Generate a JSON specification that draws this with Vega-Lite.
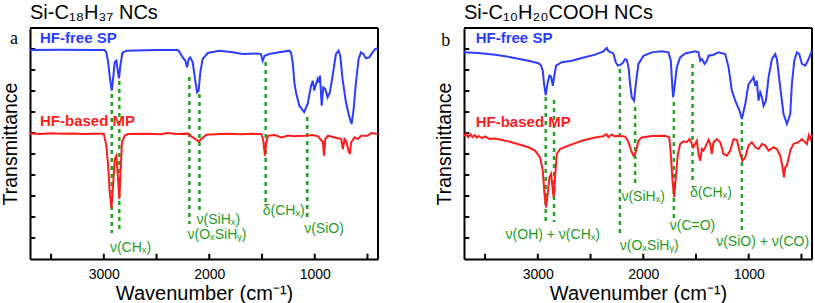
{
  "$schema": "https://vega.github.io/schema/vega-lite/v6.json",
  "background": "white",
  "padding": {"left": 0, "top": 3, "right": 0, "bottom": 0},
  "spacing": 86,
  "bounds": "flush",
  "config": {
    "font": "Liberation Sans",
    "view": {"stroke": null},
    "axis": {"grid": false, "domainColor": "black", "domainWidth": 2, "labelColor": "black", "titleColor": "black", "titleFontWeight": "normal", "labelFont": "Liberation Sans", "titleFont": "Liberation Sans"},
    "title": {"anchor": "start", "frame": "group", "fontSize": 20, "fontWeight": "normal", "color": "black", "offset": 4, "font": "Liberation Sans"}
  },
  "datasets": {
    "spectra": [
      {"p":"a","s":"SP","wn":3700,"t":9.95},{"p":"a","s":"SP","wn":3400,"t":9.96},{"p":"a","s":"SP","wn":3100,"t":9.95},{"p":"a","s":"SP","wn":2992,"t":9.95},{"p":"a","s":"SP","wn":2976,"t":9.84},{"p":"a","s":"SP","wn":2959,"t":9.37},{"p":"a","s":"SP","wn":2941,"t":8.57},{"p":"a","s":"SP","wn":2925,"t":8.02},{"p":"a","s":"SP","wn":2909,"t":8.73},{"p":"a","s":"SP","wn":2897,"t":9.37},{"p":"a","s":"SP","wn":2881,"t":9.44},{"p":"a","s":"SP","wn":2865,"t":8.89},{"p":"a","s":"SP","wn":2856,"t":8.6},{"p":"a","s":"SP","wn":2843,"t":9.21},{"p":"a","s":"SP","wn":2824,"t":9.81},{"p":"a","s":"SP","wn":2786,"t":9.92},{"p":"a","s":"SP","wn":2500,"t":9.95},{"p":"a","s":"SP","wn":2300,"t":9.95},{"p":"a","s":"SP","wn":2284,"t":9.87},{"p":"a","s":"SP","wn":2252,"t":9.6},{"p":"a","s":"SP","wn":2227,"t":9.44},{"p":"a","s":"SP","wn":2211,"t":9.13},{"p":"a","s":"SP","wn":2195,"t":9.52},{"p":"a","s":"SP","wn":2180,"t":9.6},{"p":"a","s":"SP","wn":2157,"t":9.37},{"p":"a","s":"SP","wn":2135,"t":8.57},{"p":"a","s":"SP","wn":2116,"t":7.94},{"p":"a","s":"SP","wn":2101,"t":8.02},{"p":"a","s":"SP","wn":2085,"t":8.89},{"p":"a","s":"SP","wn":2063,"t":9.52},{"p":"a","s":"SP","wn":2015,"t":9.81},{"p":"a","s":"SP","wn":1905,"t":9.92},{"p":"a","s":"SP","wn":1778,"t":9.84},{"p":"a","s":"SP","wn":1683,"t":9.76},{"p":"a","s":"SP","wn":1557,"t":9.79},{"p":"a","s":"SP","wn":1510,"t":9.76},{"p":"a","s":"SP","wn":1494,"t":9.44},{"p":"a","s":"SP","wn":1475,"t":9.68},{"p":"a","s":"SP","wn":1431,"t":9.76},{"p":"a","s":"SP","wn":1336,"t":9.84},{"p":"a","s":"SP","wn":1241,"t":9.92},{"p":"a","s":"SP","wn":1225,"t":9.84},{"p":"a","s":"SP","wn":1209,"t":9.37},{"p":"a","s":"SP","wn":1193,"t":8.41},{"p":"a","s":"SP","wn":1178,"t":7.94},{"p":"a","s":"SP","wn":1146,"t":7.3},{"p":"a","s":"SP","wn":1100,"t":7.0},{"p":"a","s":"SP","wn":1067,"t":7.38},{"p":"a","s":"SP","wn":1035,"t":8.25},{"p":"a","s":"SP","wn":1019,"t":8.49},{"p":"a","s":"SP","wn":1004,"t":8.02},{"p":"a","s":"SP","wn":988,"t":8.33},{"p":"a","s":"SP","wn":972,"t":8.57},{"p":"a","s":"SP","wn":963,"t":8.41},{"p":"a","s":"SP","wn":950,"t":8.73},{"p":"a","s":"SP","wn":934,"t":7.3},{"p":"a","s":"SP","wn":919,"t":8.17},{"p":"a","s":"SP","wn":900,"t":8.1},{"p":"a","s":"SP","wn":878,"t":7.7},{"p":"a","s":"SP","wn":856,"t":7.94},{"p":"a","s":"SP","wn":830,"t":8.73},{"p":"a","s":"SP","wn":799,"t":9.76},{"p":"a","s":"SP","wn":774,"t":9.92},{"p":"a","s":"SP","wn":758,"t":9.68},{"p":"a","s":"SP","wn":736,"t":8.57},{"p":"a","s":"SP","wn":704,"t":7.46},{"p":"a","s":"SP","wn":673,"t":6.79},{"p":"a","s":"SP","wn":650,"t":6.43},{"p":"a","s":"SP","wn":631,"t":7.14},{"p":"a","s":"SP","wn":609,"t":8.41},{"p":"a","s":"SP","wn":584,"t":9.52},{"p":"a","s":"SP","wn":562,"t":9.84},{"p":"a","s":"SP","wn":540,"t":9.76},{"p":"a","s":"SP","wn":514,"t":9.56},{"p":"a","s":"SP","wn":483,"t":9.6},{"p":"a","s":"SP","wn":451,"t":9.84},{"p":"a","s":"SP","wn":426,"t":10.0},{"p":"a","s":"SP","wn":400,"t":10.05},

      {"p":"a","s":"MP","wn":3700,"t":5.98},{"p":"a","s":"MP","wn":3600,"t":5.95},{"p":"a","s":"MP","wn":3500,"t":5.99},{"p":"a","s":"MP","wn":3400,"t":5.96},{"p":"a","s":"MP","wn":3300,"t":5.98},{"p":"a","s":"MP","wn":3200,"t":5.95},{"p":"a","s":"MP","wn":3100,"t":5.97},{"p":"a","s":"MP","wn":3000,"t":5.97},{"p":"a","s":"MP","wn":2976,"t":5.4},{"p":"a","s":"MP","wn":2959,"t":4.44},{"p":"a","s":"MP","wn":2944,"t":3.17},{"p":"a","s":"MP","wn":2928,"t":2.41},{"p":"a","s":"MP","wn":2912,"t":3.49},{"p":"a","s":"MP","wn":2897,"t":4.76},{"p":"a","s":"MP","wn":2881,"t":4.92},{"p":"a","s":"MP","wn":2865,"t":3.81},{"p":"a","s":"MP","wn":2853,"t":2.86},{"p":"a","s":"MP","wn":2840,"t":4.29},{"p":"a","s":"MP","wn":2828,"t":5.56},{"p":"a","s":"MP","wn":2802,"t":5.87},{"p":"a","s":"MP","wn":2771,"t":5.95},{"p":"a","s":"MP","wn":2600,"t":5.97},{"p":"a","s":"MP","wn":2450,"t":5.94},{"p":"a","s":"MP","wn":2400,"t":6.0},{"p":"a","s":"MP","wn":2300,"t":5.95},{"p":"a","s":"MP","wn":2202,"t":5.97},{"p":"a","s":"MP","wn":2170,"t":5.84},{"p":"a","s":"MP","wn":2123,"t":5.68},{"p":"a","s":"MP","wn":2101,"t":5.59},{"p":"a","s":"MP","wn":2075,"t":5.71},{"p":"a","s":"MP","wn":2028,"t":5.92},{"p":"a","s":"MP","wn":1900,"t":5.95},{"p":"a","s":"MP","wn":1800,"t":5.97},{"p":"a","s":"MP","wn":1700,"t":5.94},{"p":"a","s":"MP","wn":1600,"t":5.96},{"p":"a","s":"MP","wn":1506,"t":5.95},{"p":"a","s":"MP","wn":1490,"t":5.71},{"p":"a","s":"MP","wn":1472,"t":4.92},{"p":"a","s":"MP","wn":1459,"t":5.56},{"p":"a","s":"MP","wn":1443,"t":5.87},{"p":"a","s":"MP","wn":1380,"t":5.9},{"p":"a","s":"MP","wn":1316,"t":5.79},{"p":"a","s":"MP","wn":1250,"t":5.88},{"p":"a","s":"MP","wn":1200,"t":5.85},{"p":"a","s":"MP","wn":1095,"t":5.87},{"p":"a","s":"MP","wn":1020,"t":5.9},{"p":"a","s":"MP","wn":969,"t":5.84},{"p":"a","s":"MP","wn":922,"t":5.56},{"p":"a","s":"MP","wn":912,"t":4.92},{"p":"a","s":"MP","wn":900,"t":5.71},{"p":"a","s":"MP","wn":874,"t":5.87},{"p":"a","s":"MP","wn":811,"t":5.79},{"p":"a","s":"MP","wn":749,"t":5.71},{"p":"a","s":"MP","wn":733,"t":5.24},{"p":"a","s":"MP","wn":717,"t":5.71},{"p":"a","s":"MP","wn":702,"t":5.62},{"p":"a","s":"MP","wn":680,"t":5.16},{"p":"a","s":"MP","wn":667,"t":5.0},{"p":"a","s":"MP","wn":654,"t":5.56},{"p":"a","s":"MP","wn":623,"t":5.79},{"p":"a","s":"MP","wn":592,"t":5.71},{"p":"a","s":"MP","wn":560,"t":5.87},{"p":"a","s":"MP","wn":497,"t":5.87},{"p":"a","s":"MP","wn":465,"t":6.0},{"p":"a","s":"MP","wn":400,"t":5.95},

      {"p":"b","s":"SP","wn":3700,"t":9.84},{"p":"b","s":"SP","wn":3564,"t":9.81},{"p":"b","s":"SP","wn":3405,"t":9.73},{"p":"b","s":"SP","wn":3247,"t":9.6},{"p":"b","s":"SP","wn":3089,"t":9.44},{"p":"b","s":"SP","wn":2994,"t":9.32},{"p":"b","s":"SP","wn":2969,"t":9.21},{"p":"b","s":"SP","wn":2953,"t":8.97},{"p":"b","s":"SP","wn":2941,"t":8.33},{"p":"b","s":"SP","wn":2925,"t":7.81},{"p":"b","s":"SP","wn":2906,"t":8.41},{"p":"b","s":"SP","wn":2890,"t":8.73},{"p":"b","s":"SP","wn":2874,"t":8.68},{"p":"b","s":"SP","wn":2858,"t":8.25},{"p":"b","s":"SP","wn":2846,"t":8.65},{"p":"b","s":"SP","wn":2827,"t":9.21},{"p":"b","s":"SP","wn":2773,"t":9.37},{"p":"b","s":"SP","wn":2678,"t":9.44},{"p":"b","s":"SP","wn":2583,"t":9.57},{"p":"b","s":"SP","wn":2457,"t":9.73},{"p":"b","s":"SP","wn":2378,"t":9.89},{"p":"b","s":"SP","wn":2346,"t":10.05},{"p":"b","s":"SP","wn":2330,"t":9.89},{"p":"b","s":"SP","wn":2283,"t":9.79},{"p":"b","s":"SP","wn":2261,"t":9.37},{"p":"b","s":"SP","wn":2242,"t":9.21},{"p":"b","s":"SP","wn":2219,"t":9.25},{"p":"b","s":"SP","wn":2197,"t":9.32},{"p":"b","s":"SP","wn":2172,"t":9.52},{"p":"b","s":"SP","wn":2156,"t":9.48},{"p":"b","s":"SP","wn":2140,"t":9.13},{"p":"b","s":"SP","wn":2125,"t":8.33},{"p":"b","s":"SP","wn":2109,"t":7.7},{"p":"b","s":"SP","wn":2087,"t":7.54},{"p":"b","s":"SP","wn":2071,"t":8.33},{"p":"b","s":"SP","wn":2046,"t":9.29},{"p":"b","s":"SP","wn":1998,"t":9.68},{"p":"b","s":"SP","wn":1919,"t":9.84},{"p":"b","s":"SP","wn":1824,"t":9.89},{"p":"b","s":"SP","wn":1761,"t":9.84},{"p":"b","s":"SP","wn":1739,"t":9.44},{"p":"b","s":"SP","wn":1726,"t":8.33},{"p":"b","s":"SP","wn":1717,"t":7.7},{"p":"b","s":"SP","wn":1704,"t":8.17},{"p":"b","s":"SP","wn":1682,"t":9.13},{"p":"b","s":"SP","wn":1650,"t":9.6},{"p":"b","s":"SP","wn":1603,"t":9.79},{"p":"b","s":"SP","wn":1508,"t":9.89},{"p":"b","s":"SP","wn":1476,"t":9.84},{"p":"b","s":"SP","wn":1460,"t":9.44},{"p":"b","s":"SP","wn":1444,"t":9.52},{"p":"b","s":"SP","wn":1419,"t":9.29},{"p":"b","s":"SP","wn":1397,"t":9.44},{"p":"b","s":"SP","wn":1381,"t":9.68},{"p":"b","s":"SP","wn":1334,"t":9.73},{"p":"b","s":"SP","wn":1286,"t":9.84},{"p":"b","s":"SP","wn":1223,"t":9.76},{"p":"b","s":"SP","wn":1191,"t":9.13},{"p":"b","s":"SP","wn":1160,"t":8.02},{"p":"b","s":"SP","wn":1128,"t":7.54},{"p":"b","s":"SP","wn":1087,"t":7.06},{"p":"b","s":"SP","wn":1065,"t":6.67},{"p":"b","s":"SP","wn":1033,"t":7.38},{"p":"b","s":"SP","wn":1002,"t":8.33},{"p":"b","s":"SP","wn":976,"t":8.49},{"p":"b","s":"SP","wn":954,"t":8.65},{"p":"b","s":"SP","wn":938,"t":8.25},{"p":"b","s":"SP","wn":923,"t":8.49},{"p":"b","s":"SP","wn":907,"t":7.54},{"p":"b","s":"SP","wn":891,"t":7.94},{"p":"b","s":"SP","wn":875,"t":7.7},{"p":"b","s":"SP","wn":859,"t":7.3},{"p":"b","s":"SP","wn":837,"t":7.54},{"p":"b","s":"SP","wn":812,"t":8.65},{"p":"b","s":"SP","wn":780,"t":9.52},{"p":"b","s":"SP","wn":749,"t":9.76},{"p":"b","s":"SP","wn":733,"t":9.52},{"p":"b","s":"SP","wn":701,"t":8.17},{"p":"b","s":"SP","wn":670,"t":6.9},{"p":"b","s":"SP","wn":638,"t":6.43},{"p":"b","s":"SP","wn":606,"t":6.9},{"p":"b","s":"SP","wn":591,"t":8.33},{"p":"b","s":"SP","wn":568,"t":9.44},{"p":"b","s":"SP","wn":543,"t":9.84},{"p":"b","s":"SP","wn":521,"t":9.76},{"p":"b","s":"SP","wn":496,"t":9.29},{"p":"b","s":"SP","wn":464,"t":9.21},{"p":"b","s":"SP","wn":432,"t":9.52},{"p":"b","s":"SP","wn":401,"t":9.92},

      {"p":"b","s":"MP","wn":3700,"t":5.87},{"p":"b","s":"MP","wn":3680,"t":5.97},{"p":"b","s":"MP","wn":3660,"t":5.8},{"p":"b","s":"MP","wn":3640,"t":5.93},{"p":"b","s":"MP","wn":3620,"t":5.81},{"p":"b","s":"MP","wn":3600,"t":5.9},{"p":"b","s":"MP","wn":3580,"t":5.78},{"p":"b","s":"MP","wn":3564,"t":5.86},{"p":"b","s":"MP","wn":3530,"t":5.76},{"p":"b","s":"MP","wn":3500,"t":5.84},{"p":"b","s":"MP","wn":3460,"t":5.72},{"p":"b","s":"MP","wn":3405,"t":5.74},{"p":"b","s":"MP","wn":3247,"t":5.56},{"p":"b","s":"MP","wn":3089,"t":5.32},{"p":"b","s":"MP","wn":3026,"t":5.16},{"p":"b","s":"MP","wn":2979,"t":4.84},{"p":"b","s":"MP","wn":2953,"t":4.21},{"p":"b","s":"MP","wn":2937,"t":3.1},{"p":"b","s":"MP","wn":2922,"t":2.46},{"p":"b","s":"MP","wn":2906,"t":3.1},{"p":"b","s":"MP","wn":2890,"t":3.89},{"p":"b","s":"MP","wn":2874,"t":4.05},{"p":"b","s":"MP","wn":2858,"t":3.25},{"p":"b","s":"MP","wn":2849,"t":2.94},{"p":"b","s":"MP","wn":2839,"t":3.73},{"p":"b","s":"MP","wn":2820,"t":5.0},{"p":"b","s":"MP","wn":2789,"t":5.24},{"p":"b","s":"MP","wn":2710,"t":5.4},{"p":"b","s":"MP","wn":2583,"t":5.63},{"p":"b","s":"MP","wn":2457,"t":5.79},{"p":"b","s":"MP","wn":2380,"t":5.84},{"p":"b","s":"MP","wn":2350,"t":5.95},{"p":"b","s":"MP","wn":2330,"t":5.8},{"p":"b","s":"MP","wn":2300,"t":5.93},{"p":"b","s":"MP","wn":2270,"t":5.84},{"p":"b","s":"MP","wn":2235,"t":5.87},{"p":"b","s":"MP","wn":2172,"t":5.83},{"p":"b","s":"MP","wn":2140,"t":5.56},{"p":"b","s":"MP","wn":2115,"t":5.16},{"p":"b","s":"MP","wn":2093,"t":4.92},{"p":"b","s":"MP","wn":2071,"t":5.08},{"p":"b","s":"MP","wn":2045,"t":5.63},{"p":"b","s":"MP","wn":2014,"t":5.79},{"p":"b","s":"MP","wn":1919,"t":5.86},{"p":"b","s":"MP","wn":1792,"t":5.87},{"p":"b","s":"MP","wn":1754,"t":5.79},{"p":"b","s":"MP","wn":1739,"t":5.0},{"p":"b","s":"MP","wn":1723,"t":3.73},{"p":"b","s":"MP","wn":1707,"t":2.94},{"p":"b","s":"MP","wn":1694,"t":3.73},{"p":"b","s":"MP","wn":1672,"t":5.0},{"p":"b","s":"MP","wn":1650,"t":5.48},{"p":"b","s":"MP","wn":1618,"t":5.6},{"p":"b","s":"MP","wn":1587,"t":5.56},{"p":"b","s":"MP","wn":1561,"t":5.71},{"p":"b","s":"MP","wn":1539,"t":5.48},{"p":"b","s":"MP","wn":1524,"t":5.32},{"p":"b","s":"MP","wn":1508,"t":5.48},{"p":"b","s":"MP","wn":1492,"t":5.63},{"p":"b","s":"MP","wn":1476,"t":5.0},{"p":"b","s":"MP","wn":1460,"t":4.68},{"p":"b","s":"MP","wn":1444,"t":5.24},{"p":"b","s":"MP","wn":1429,"t":5.16},{"p":"b","s":"MP","wn":1397,"t":5.48},{"p":"b","s":"MP","wn":1381,"t":5.67},{"p":"b","s":"MP","wn":1365,"t":5.48},{"p":"b","s":"MP","wn":1350,"t":5.0},{"p":"b","s":"MP","wn":1334,"t":5.56},{"p":"b","s":"MP","wn":1302,"t":5.71},{"p":"b","s":"MP","wn":1270,"t":5.56},{"p":"b","s":"MP","wn":1239,"t":5.0},{"p":"b","s":"MP","wn":1207,"t":4.92},{"p":"b","s":"MP","wn":1176,"t":5.16},{"p":"b","s":"MP","wn":1144,"t":5.71},{"p":"b","s":"MP","wn":1112,"t":5.67},{"p":"b","s":"MP","wn":1081,"t":5.0},{"p":"b","s":"MP","wn":1059,"t":4.68},{"p":"b","s":"MP","wn":1033,"t":4.84},{"p":"b","s":"MP","wn":1002,"t":5.4},{"p":"b","s":"MP","wn":970,"t":5.56},{"p":"b","s":"MP","wn":938,"t":5.32},{"p":"b","s":"MP","wn":907,"t":5.24},{"p":"b","s":"MP","wn":875,"t":5.48},{"p":"b","s":"MP","wn":843,"t":5.4},{"p":"b","s":"MP","wn":812,"t":5.16},{"p":"b","s":"MP","wn":764,"t":5.32},{"p":"b","s":"MP","wn":733,"t":5.24},{"p":"b","s":"MP","wn":701,"t":4.92},{"p":"b","s":"MP","wn":679,"t":4.37},{"p":"b","s":"MP","wn":666,"t":3.89},{"p":"b","s":"MP","wn":654,"t":4.37},{"p":"b","s":"MP","wn":638,"t":4.44},{"p":"b","s":"MP","wn":606,"t":5.16},{"p":"b","s":"MP","wn":575,"t":5.48},{"p":"b","s":"MP","wn":527,"t":5.56},{"p":"b","s":"MP","wn":496,"t":5.71},{"p":"b","s":"MP","wn":448,"t":5.48},{"p":"b","s":"MP","wn":430,"t":5.9},{"p":"b","s":"MP","wn":416,"t":5.72},{"p":"b","s":"MP","wn":401,"t":5.92}
    ],
    "rules": [
      {"p":"a","k":"g","wn":2925,"wn2":2925,"y1":7.86,"y2":1.24},{"p":"a","k":"g","wn":2853,"wn2":2853,"y1":8.48,"y2":1.33},{"p":"a","k":"g","wn":2189,"wn2":2189,"y1":8.67,"y2":1.67},{"p":"a","k":"g","wn":2093,"wn2":2093,"y1":7.86,"y2":2.29},{"p":"a","k":"g","wn":1465,"wn2":1465,"y1":9.38,"y2":2.71},{"p":"a","k":"g","wn":1071,"wn2":1071,"y1":6.76,"y2":1.9},
      {"p":"b","k":"g","wn":2925,"wn2":2925,"y1":7.71,"y2":1.76},{"p":"b","k":"g","wn":2846,"wn2":2846,"y1":7.57,"y2":1.76},{"p":"b","k":"g","wn":2222,"wn2":2222,"y1":9.05,"y2":1.1},{"p":"b","k":"g","wn":2077,"wn2":2077,"y1":7.24,"y2":3.57},{"p":"b","k":"g","wn":1710,"wn2":1710,"y1":7.48,"y2":1.9},{"p":"b","k":"g","wn":1533,"wn2":1533,"y1":9.29,"y2":3.67},{"p":"b","k":"g","wn":1065,"wn2":1065,"y1":6.52,"y2":1.19},
      {"p":"a","k":"f","wn":3700,"wn2":400,"y1":11,"y2":11},{"p":"a","k":"f","wn":400,"wn2":400,"y1":0,"y2":11},
      {"p":"a","k":"f","wn":500,"wn2":500,"y1":0,"y2":0.25},{"p":"a","k":"f","wn":1000,"wn2":1000,"y1":0,"y2":0.25},{"p":"a","k":"f","wn":1500,"wn2":1500,"y1":0,"y2":0.25},{"p":"a","k":"f","wn":2000,"wn2":2000,"y1":0,"y2":0.25},{"p":"a","k":"f","wn":2500,"wn2":2500,"y1":0,"y2":0.25},{"p":"a","k":"f","wn":3000,"wn2":3000,"y1":0,"y2":0.25},{"p":"a","k":"f","wn":3500,"wn2":3500,"y1":0,"y2":0.25},
      {"p":"a","k":"f","wn":3700,"wn2":3650,"y1":1,"y2":1},{"p":"a","k":"f","wn":3700,"wn2":3650,"y1":2,"y2":2},{"p":"a","k":"f","wn":3700,"wn2":3650,"y1":3,"y2":3},{"p":"a","k":"f","wn":3700,"wn2":3650,"y1":4,"y2":4},{"p":"a","k":"f","wn":3700,"wn2":3650,"y1":5,"y2":5},{"p":"a","k":"f","wn":3700,"wn2":3650,"y1":6,"y2":6},{"p":"a","k":"f","wn":3700,"wn2":3650,"y1":7,"y2":7},{"p":"a","k":"f","wn":3700,"wn2":3650,"y1":8,"y2":8},{"p":"a","k":"f","wn":3700,"wn2":3650,"y1":9,"y2":9},{"p":"a","k":"f","wn":3700,"wn2":3650,"y1":10,"y2":10},
      {"p":"b","k":"f","wn":3700,"wn2":400,"y1":11,"y2":11},{"p":"b","k":"f","wn":400,"wn2":400,"y1":0,"y2":11},
      {"p":"b","k":"f","wn":500,"wn2":500,"y1":0,"y2":0.25},{"p":"b","k":"f","wn":1000,"wn2":1000,"y1":0,"y2":0.25},{"p":"b","k":"f","wn":1500,"wn2":1500,"y1":0,"y2":0.25},{"p":"b","k":"f","wn":2000,"wn2":2000,"y1":0,"y2":0.25},{"p":"b","k":"f","wn":2500,"wn2":2500,"y1":0,"y2":0.25},{"p":"b","k":"f","wn":3000,"wn2":3000,"y1":0,"y2":0.25},{"p":"b","k":"f","wn":3500,"wn2":3500,"y1":0,"y2":0.25},
      {"p":"b","k":"f","wn":3700,"wn2":3650,"y1":1,"y2":1},{"p":"b","k":"f","wn":3700,"wn2":3650,"y1":2,"y2":2},{"p":"b","k":"f","wn":3700,"wn2":3650,"y1":3,"y2":3},{"p":"b","k":"f","wn":3700,"wn2":3650,"y1":4,"y2":4},{"p":"b","k":"f","wn":3700,"wn2":3650,"y1":5,"y2":5},{"p":"b","k":"f","wn":3700,"wn2":3650,"y1":6,"y2":6},{"p":"b","k":"f","wn":3700,"wn2":3650,"y1":7,"y2":7},{"p":"b","k":"f","wn":3700,"wn2":3650,"y1":8,"y2":8},{"p":"b","k":"f","wn":3700,"wn2":3650,"y1":9,"y2":9},{"p":"b","k":"f","wn":3700,"wn2":3650,"y1":10,"y2":10}
    ],
    "notes": [
      {"p":"a","wn":2747,"t":0.52,"label":"ν(CHₓ)"},{"p":"a","wn":1914,"t":1.87,"label":"ν(SiHₓ)"},{"p":"a","wn":1927,"t":1.14,"label":"ν(OₓSiHᵧ)"},{"p":"a","wn":1294,"t":2.3,"label":"δ(CHₓ)"},{"p":"a","wn":912,"t":1.43,"label":"ν(SiO)"},
      {"p":"b","wn":2858,"t":1.14,"label":"ν(OH) + ν(CHₓ)"},{"p":"b","wn":2001,"t":2.94,"label":"ν(SiHₓ)"},{"p":"b","wn":1533,"t":1.59,"label":"ν(C=O)"},{"p":"b","wn":1359,"t":3.13,"label":"δ(CHₓ)"},{"p":"b","wn":1944,"t":0.63,"label":"ν(OₓSiHᵧ)"},{"p":"b","wn":868,"t":0.79,"label":"ν(SiO) + ν(CO)"}
    ],
    "series": [
      {"p":"a","s":"SP","wn":3605,"t":10.52,"label":"HF-free SP"},{"p":"a","s":"MP","wn":3605,"t":6.59,"label":"HF-based MP"},
      {"p":"b","s":"SP","wn":3589,"t":10.52,"label":"HF-free SP"},{"p":"b","s":"MP","wn":3589,"t":6.52,"label":"HF-based MP"}
    ],
    "panels": [
      {"p":"a","wn":3852,"t":10.48,"label":"a"},{"p":"b","wn":3874,"t":10.38,"label":"b"}
    ]
  },
  "hconcat": [
    {
      "width": 348, "height": 231,
      "title": {"text": "Si-C₁₈H₃₇ NCs"},
      "layer": [
        {"data": {"name": "rules"}, "transform": [{"filter": "datum.p === 'a' && datum.k === 'g'"}],
         "mark": {"type": "rule", "color": "#22a322", "strokeWidth": 2.5, "strokeDash": [4, 4]},
         "encoding": {
           "x": {"field": "wn", "type": "quantitative", "scale": {"domain": [400, 3700], "reverse": true, "nice": false, "zero": false},
                 "axis": {"values": [1000, 2000, 3000], "format": "d", "ticks": false, "labelFontSize": 14, "labelPadding": 8, "title": "Wavenumber (cm⁻¹)", "titleFontSize": 20, "titlePadding": 2}},
           "y": {"field": "y1", "type": "quantitative", "scale": {"domain": [0, 11], "nice": false, "zero": false},
                 "axis": {"ticks": false, "labels": false, "title": "Transmittance", "titleFontSize": 19.5, "titlePadding": 10}},
           "y2": {"field": "y2"}
         }},
        {"data": {"name": "rules"}, "transform": [{"filter": "datum.p === 'a' && datum.k === 'f'"}],
         "mark": {"type": "rule", "color": "black", "strokeWidth": 2},
         "encoding": {
           "x": {"field": "wn", "type": "quantitative"},
           "x2": {"field": "wn2"},
           "y": {"field": "y1", "type": "quantitative"},
           "y2": {"field": "y2"}
         }},
        {"data": {"name": "spectra"}, "transform": [{"filter": "datum.p === 'a'"}],
         "mark": {"type": "line", "strokeWidth": 2},
         "encoding": {
           "x": {"field": "wn", "type": "quantitative"},
           "y": {"field": "t", "type": "quantitative"},
           "color": {"field": "s", "type": "nominal", "scale": {"domain": ["SP", "MP"], "range": ["#2b3dff", "#ff1c1c"]}, "legend": null},
           "detail": {"field": "s"}
         }},
        {"data": {"name": "notes"}, "transform": [{"filter": "datum.p === 'a'"}],
         "mark": {"type": "text", "font": "Liberation Sans", "color": "#1f9c1f", "fontSize": 14, "align": "center", "baseline": "middle"},
         "encoding": {"x": {"field": "wn", "type": "quantitative"}, "y": {"field": "t", "type": "quantitative"}, "text": {"field": "label"}}},
        {"data": {"name": "series"}, "transform": [{"filter": "datum.p === 'a'"}],
         "mark": {"type": "text", "font": "Liberation Sans", "fontSize": 15, "fontWeight": "bold", "align": "left", "baseline": "middle"},
         "encoding": {"x": {"field": "wn", "type": "quantitative"}, "y": {"field": "t", "type": "quantitative"}, "text": {"field": "label"}, "color": {"field": "s", "type": "nominal", "legend": null}}},
        {"data": {"name": "panels"}, "transform": [{"filter": "datum.p === 'a'"}],
         "mark": {"type": "text", "font": "Liberation Serif", "fontSize": 18, "align": "center", "baseline": "middle", "color": "black"},
         "encoding": {"x": {"field": "wn", "type": "quantitative"}, "y": {"field": "t", "type": "quantitative"}, "text": {"field": "label"}}}
      ]
    },
    {
      "width": 348, "height": 231,
      "title": {"text": "Si-C₁₀H₂₀COOH NCs"},
      "layer": [
        {"data": {"name": "rules"}, "transform": [{"filter": "datum.p === 'b' && datum.k === 'g'"}],
         "mark": {"type": "rule", "color": "#22a322", "strokeWidth": 2.5, "strokeDash": [4, 4]},
         "encoding": {
           "x": {"field": "wn", "type": "quantitative", "scale": {"domain": [400, 3700], "reverse": true, "nice": false, "zero": false},
                 "axis": {"values": [1000, 2000, 3000], "format": "d", "ticks": false, "labelFontSize": 14, "labelPadding": 8, "title": "Wavenumber (cm⁻¹)", "titleFontSize": 20, "titlePadding": 2}},
           "y": {"field": "y1", "type": "quantitative", "scale": {"domain": [0, 11], "nice": false, "zero": false},
                 "axis": {"ticks": false, "labels": false, "title": "Transmittance", "titleFontSize": 19.5, "titlePadding": 10}},
           "y2": {"field": "y2"}
         }},
        {"data": {"name": "rules"}, "transform": [{"filter": "datum.p === 'b' && datum.k === 'f'"}],
         "mark": {"type": "rule", "color": "black", "strokeWidth": 2},
         "encoding": {
           "x": {"field": "wn", "type": "quantitative"},
           "x2": {"field": "wn2"},
           "y": {"field": "y1", "type": "quantitative"},
           "y2": {"field": "y2"}
         }},
        {"data": {"name": "spectra"}, "transform": [{"filter": "datum.p === 'b'"}],
         "mark": {"type": "line", "strokeWidth": 2},
         "encoding": {
           "x": {"field": "wn", "type": "quantitative"},
           "y": {"field": "t", "type": "quantitative"},
           "color": {"field": "s", "type": "nominal", "scale": {"domain": ["SP", "MP"], "range": ["#2b3dff", "#ff1c1c"]}, "legend": null},
           "detail": {"field": "s"}
         }},
        {"data": {"name": "notes"}, "transform": [{"filter": "datum.p === 'b'"}],
         "mark": {"type": "text", "font": "Liberation Sans", "color": "#1f9c1f", "fontSize": 14, "align": "center", "baseline": "middle"},
         "encoding": {"x": {"field": "wn", "type": "quantitative"}, "y": {"field": "t", "type": "quantitative"}, "text": {"field": "label"}}},
        {"data": {"name": "series"}, "transform": [{"filter": "datum.p === 'b'"}],
         "mark": {"type": "text", "font": "Liberation Sans", "fontSize": 15, "fontWeight": "bold", "align": "left", "baseline": "middle"},
         "encoding": {"x": {"field": "wn", "type": "quantitative"}, "y": {"field": "t", "type": "quantitative"}, "text": {"field": "label"}, "color": {"field": "s", "type": "nominal", "legend": null}}},
        {"data": {"name": "panels"}, "transform": [{"filter": "datum.p === 'b'"}],
         "mark": {"type": "text", "font": "Liberation Serif", "fontSize": 18, "align": "center", "baseline": "middle", "color": "black"},
         "encoding": {"x": {"field": "wn", "type": "quantitative"}, "y": {"field": "t", "type": "quantitative"}, "text": {"field": "label"}}}
      ]
    }
  ]
}
